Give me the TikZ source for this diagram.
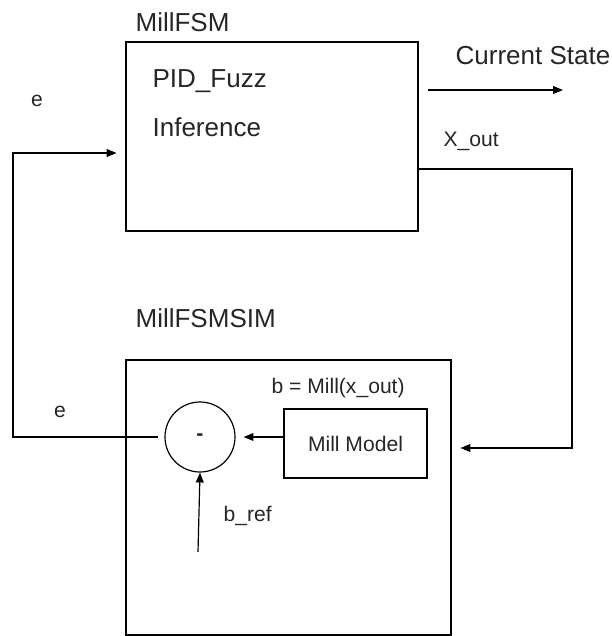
\documentclass[tikz,border=0pt]{standalone}
\usepackage{fontspec}
\setmainfont{Liberation Sans}
\usetikzlibrary{arrows.meta}

\begin{document}
\begin{tikzpicture}[x=0.025cm,y=-0.025cm,line width=0.85pt,
  big/.style={font=\fontsize{18.5}{22}\selectfont,inner sep=0pt,text=black!85},
  small/.style={font=\fontsize{15}{18}\selectfont,inner sep=0pt,text=black!85},
  block/.style={draw,rectangle,inner sep=0pt},
  flow/.style={-{Triangle[length=7pt,width=5.5pt]}}]
\useasboundingbox (0,0) rectangle (611,636);
% blocks
\node[block,minimum width=7.3cm,minimum height=4.725cm] (fsm) at (272,136.5) {};
\node[block,minimum width=8.125cm,minimum height=6.875cm] (sim) at (288.5,497.5) {};
\node[block,small,minimum width=3.575cm,minimum height=1.725cm] (mill) at (355.5,443.5) {Mill Model};
\node[draw,circle,minimum size=1.75cm,inner sep=0pt,small] (sum) at (200,437) {\textbf{-}};
% free ends
\coordinate (cs0) at (428,90); \coordinate (cs1) at (563,90);
\coordinate (xo) at (fsm.east |- 0,169); \coordinate (xr) at (572,169);
\coordinate (el) at (13,153); \coordinate (bref) at (198,552);
% connectors
\draw[flow] (cs0)--(cs1);
\draw[flow,shorten >=2.2mm] (xo)--(xr)|-(sim.east |- 0,448);
\draw[flow,shorten <=1.5mm,shorten >=2.2mm] (sum.west)-|(el)--(fsm.west |- el);
\draw[flow,shorten >=2mm] (mill.west |- sum.east)--(sum.east);
\draw[flow] (bref)--(sum.south);
% labels
\node[big,anchor=base west] (fsmlbl) at (135,32) {MillFSM};
\node[big,anchor=base west] (pid) at (152,88) {PID\_Fuzz};
\node[big,anchor=base west] (inf) at (152,137) {Inference};
\node[big,anchor=base west] (cslbl) at (455,65) {Current State};
\node[big,anchor=base west] (simlbl) at (135,327) {MillFSMSIM};
\node[small,anchor=base] (etop) at (37,107) {e};
\node[small,anchor=base] (ebot) at (60,417) {e};
\node[small,anchor=base west] (xout) at (443,147) {X\_out};
\node[small,anchor=base west] (beq) at (271,393) {b = Mill(x\_out)};
\node[small,anchor=base west] (breflbl) at (223,521) {b\_ref};
\end{tikzpicture}
\end{document}
